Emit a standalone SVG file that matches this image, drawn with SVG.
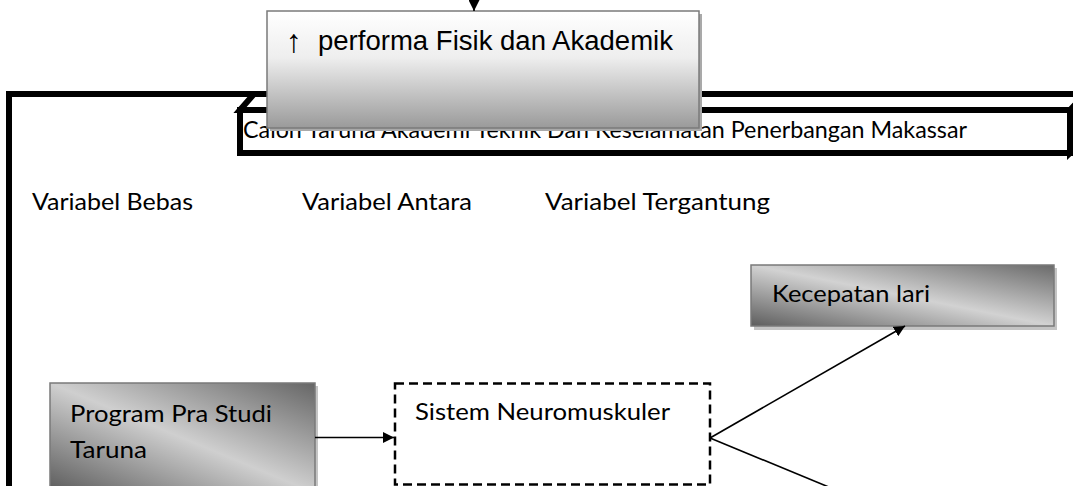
<svg xmlns="http://www.w3.org/2000/svg" width="1073" height="486" viewBox="0 0 1073 486">
  <style>
    .cal { font-family: Lato, "Open Sans", sans-serif; font-size: 23px; fill: #000; }
    .ari { font-family: "Liberation Sans", Arial, sans-serif; font-size: 27px; fill: #000; }
    .thick { fill: none; stroke: #000; stroke-width: 6; stroke-linejoin: miter; }
    .conn { fill: none; stroke: #000; stroke-width: 1.6; }
    .boxedge { stroke: #7a7a7a; stroke-width: 1.5; }
  </style>
  <defs>
    <linearGradient id="gTop" x1="0" y1="0" x2="0" y2="1">
      <stop offset="0" stop-color="#ffffff"/>
      <stop offset="0.4" stop-color="#eeeeee"/>
      <stop offset="1" stop-color="#9a9a9a"/>
    </linearGradient>
    <linearGradient id="gDiag" x1="0" y1="1" x2="1" y2="0">
      <stop offset="0" stop-color="#5e5e5e"/>
      <stop offset="0.5" stop-color="#d2d2d2"/>
      <stop offset="1" stop-color="#6a6a6a"/>
    </linearGradient>
    <linearGradient id="gProg" x1="0" y1="1" x2="1" y2="0">
      <stop offset="0" stop-color="#5a5a5a"/>
      <stop offset="0.5" stop-color="#cfcfcf"/>
      <stop offset="1" stop-color="#666666"/>
    </linearGradient>
    <marker id="arrBig" viewBox="0 0 10 10" refX="10" refY="5" markerWidth="11" markerHeight="11" markerUnits="userSpaceOnUse" orient="auto">
      <path d="M0,0 L10,5 L0,10 Z" fill="#000"/>
    </marker>
  </defs>

  <!-- outer frame -->
  <g id="frame">
    <path class="thick" d="M9,486 L9,94 L1080,94"/>
  </g>

  <!-- cube: Calon Taruna -->
  <g id="calon">
    <path d="M1070,110 L1085,96 L1085,139 L1070,153 Z" fill="#bdbdbd" stroke="#000" stroke-width="6"/>
    <path d="M240,110 L254,94 L1085,94 L1070,110 Z" fill="#fff" stroke="#000" stroke-width="6" stroke-linejoin="miter"/>
    <rect x="240" y="110" width="830" height="43" fill="#fff" stroke="#000" stroke-width="6"/>
    <text class="cal" x="243" y="138" textLength="724" lengthAdjust="spacingAndGlyphs">Calon Taruna Akademi Teknik Dan Keselamatan Penerbangan Makassar</text>
  </g>

  <!-- top box -->
  <g id="performa">
    <rect x="270" y="14" width="432" height="117" fill="#a9a9a9"/>
    <rect x="267" y="11" width="432" height="117" fill="url(#gTop)" class="boxedge"/>
    <text class="ari" x="286" y="52"><tspan font-size="32">↑</tspan><tspan x="318" y="50" textLength="355" lengthAdjust="spacingAndGlyphs">performa Fisik dan Akademik</tspan></text>
  </g>

  <!-- column headers -->
  <g id="headers">
    <text class="cal" x="32" y="210" textLength="161" lengthAdjust="spacingAndGlyphs">Variabel Bebas</text>
    <text class="cal" x="302" y="210" textLength="170" lengthAdjust="spacingAndGlyphs">Variabel Antara</text>
    <text class="cal" x="545" y="210" textLength="225" lengthAdjust="spacingAndGlyphs">Variabel Tergantung</text>
  </g>

  <!-- Kecepatan lari -->
  <g id="kecepatan">
    <rect x="754" y="268" width="303" height="62" fill="#c4c4c4"/>
    <rect x="751" y="265" width="303" height="61" fill="url(#gDiag)" class="boxedge"/>
    <text class="cal" x="772" y="302" textLength="158" lengthAdjust="spacingAndGlyphs">Kecepatan lari</text>
  </g>

  <!-- Program Pra Studi Taruna -->
  <g id="program">
    <rect x="53" y="386" width="265" height="110" fill="#c4c4c4"/>
    <rect x="50" y="383" width="265" height="110" fill="url(#gProg)" class="boxedge"/>
    <text class="cal" x="70" y="422" textLength="202" lengthAdjust="spacingAndGlyphs">Program Pra Studi</text>
    <text class="cal" x="70" y="458" textLength="77" lengthAdjust="spacingAndGlyphs">Taruna</text>
  </g>

  <!-- Sistem Neuromuskuler -->
  <g id="sistem">
    <rect x="395" y="383.5" width="315" height="101" fill="#fff" stroke="#000" stroke-width="2.5" stroke-dasharray="9,5"/>
    <text class="cal" x="415" y="420" textLength="255" lengthAdjust="spacingAndGlyphs">Sistem Neuromuskuler</text>
  </g>

  <!-- connectors -->
  <g id="connectors">
    <line class="conn" x1="474" y1="-30" x2="474" y2="11" marker-end="url(#arrBig)"/>
    <line class="conn" x1="315" y1="437.5" x2="394" y2="437.5" marker-end="url(#arrBig)"/>
    <line class="conn" x1="710" y1="438" x2="905" y2="326" marker-end="url(#arrBig)"/>
    <line class="conn" x1="710" y1="438" x2="836" y2="490"/>
  </g>
</svg>
